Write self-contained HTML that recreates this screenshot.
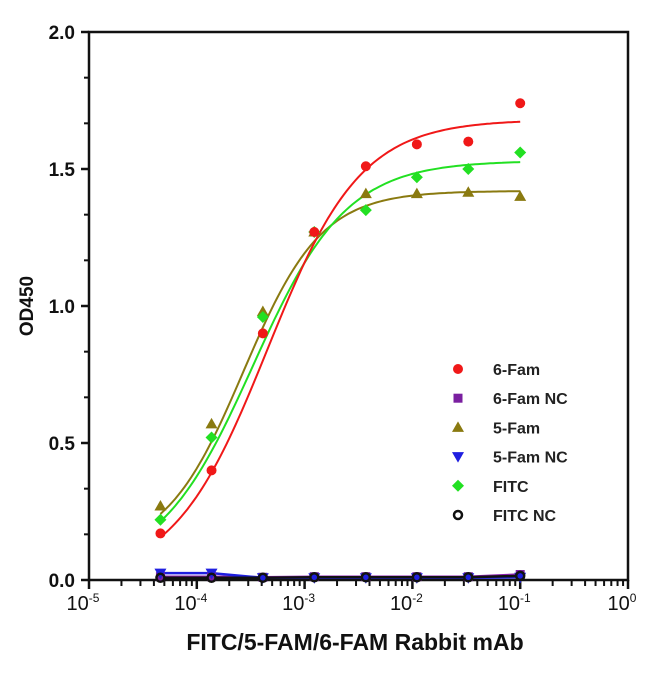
<!DOCTYPE html>
<html><head><meta charset="utf-8"><style>
html,body{margin:0;padding:0;background:#fff;}
svg{display:block;font-family:"Liberation Sans",Arial,sans-serif;}
</style></head><body>
<svg id="chart" width="650" height="677" viewBox="0 0 650 677"></svg>
<script>
const concentrations=[0.1,0.033,0.011,0.0037,0.00123,0.00041,0.000137,0.000046];
const fam6=[1.74,1.60,1.59,1.51,1.27,0.90,0.40,0.17];
const fam6NC=[0.02,0.012,0.012,0.012,0.012,0.01,0.012,0.012];
const fam5=[1.40,1.415,1.41,1.41,1.27,0.98,0.57,0.27];
const fam5NC=[0.01,0.008,0.008,0.008,0.008,0.008,0.025,0.025];
const fitc=[1.56,1.50,1.47,1.35,1.27,0.96,0.52,0.22];
const fitcNC=[0.015,0.01,0.01,0.01,0.01,0.008,0.008,0.008];
const fit6=[0,1.68,0.00045,1.0];
const fit5=[0.1,1.42,0.00027,1.2];
const fitF=[0.03,1.53,0.00033,1.0];
const yTicks=[0,0.5,1.0,1.5,2.0];
const yTickLabels=["0.0","0.5","1.0","1.5","2.0"];
const xDecades=[-5,-4,-3,-2,-1,0];

const NS="http://www.w3.org/2000/svg";
const svg=document.getElementById('chart');
const L=89,R=628,T=32,B=580;
function xs(v){return L+(Math.log10(v)+5)*(R-L)/5;}
function ys(v){return B-v*(B-T)/2;}
function mk(tag,attrs,parent){const e=document.createElementNS(NS,tag);for(const k in attrs)e.setAttribute(k,attrs[k]);(parent||svg).appendChild(e);return e;}

const frame=mk('path',{d:`M${L},${B} L${L},${T} L${R},${T} L${R},${B} Z`,fill:'none',stroke:'#111','stroke-width':2.5});



yTicks.forEach((v,i)=>{
  const t=mk('line',{x1:L-8,x2:L,y1:ys(v),y2:ys(v),stroke:'#111','stroke-width':2.5});
  
  
  const lb=mk('text',{x:L-14,y:ys(v)+7,'text-anchor':'end','font-size':19,'font-weight':'bold',fill:'#111'});
  lb.textContent=yTickLabels[i];
  
  
  if(i<yTicks.length-1){for(let k=1;k<3;k++){const mv=v+k*(yTicks[i+1]-v)/3;
    const m=mk('line',{x1:L-5,x2:L,y1:ys(mv),y2:ys(mv),stroke:'#111','stroke-width':2});
    
    }}
});
xDecades.forEach((d,i)=>{
  const x=xs(Math.pow(10,d));
  const t=mk('line',{x1:x,x2:x,y1:B,y2:B+9,stroke:'#111','stroke-width':2.5});
  
  
  const lb=mk('text',{x:x-6,y:B+30,'text-anchor':'middle','font-size':20,fill:'#111'});
  lb.innerHTML=`10<tspan dy="-8" font-size="12">${d}</tspan>`;
  
  
  if(i<xDecades.length-1){for(let k=2;k<10;k++){const mx=xs(k*Math.pow(10,d));
    const m=mk('line',{x1:mx,x2:mx,y1:B,y2:B+6,stroke:'#111','stroke-width':2});
    
    }}
});
const xt=mk('text',{x:355,y:650,'text-anchor':'middle','font-size':23,'font-weight':'bold',fill:'#111'});
xt.textContent='FITC/5-FAM/6-FAM Rabbit mAb';


const yt=mk('text',{x:0,y:0,transform:'translate(33,306) rotate(-90)','text-anchor':'middle','font-size':19,'font-weight':'bold',fill:'#111'});
yt.textContent='OD450';



function curve(p,color,name){
  let d='';
  const lo=Math.log10(concentrations[concentrations.length-1]),hi=Math.log10(concentrations[0]);
  for(let i=0;i<=120;i++){const lx=lo+(hi-lo)*i/120,c=Math.pow(10,lx);
    const y=p[0]+(p[1]-p[0])/(1+Math.pow(p[2]/c,p[3]));
    d+=(i?'L':'M')+xs(c).toFixed(1)+','+ys(y).toFixed(1);}
  const e=mk('path',{d:d,fill:'none',stroke:color,'stroke-width':2});
  
  
}
function flat(vals,color,name){
  let d='';concentrations.forEach((c,i)=>{d+=(i?'L':'M')+xs(c)+','+ys(vals[i]);});
  const e=mk('path',{d:d,fill:'none',stroke:color,'stroke-width':2.5});
  
  
}
function marker(shape,x,y,color){
  let e;
  if(shape==='circle')e=mk('circle',{cx:x,cy:y,r:5,fill:color});
  else if(shape==='square')e=mk('rect',{x:x-4.5,y:y-4.5,width:9,height:9,fill:color});
  else if(shape==='tri')e=mk('path',{d:`M${x},${y-6}L${x+6},${y+4.5}L${x-6},${y+4.5}Z`,fill:color});
  else if(shape==='tridown')e=mk('path',{d:`M${x},${y+6}L${x+6},${y-4.5}L${x-6},${y-4.5}Z`,fill:color});
  else if(shape==='diamond')e=mk('path',{d:`M${x},${y-6}L${x+6},${y}L${x},${y+6}L${x-6},${y}Z`,fill:color});
  else e=mk('circle',{cx:x,cy:y,r:4,fill:'none',stroke:color,'stroke-width':2.5});
  return e;
}
function points(vals,shape,color,name){
  concentrations.forEach((c,i)=>{const e=marker(shape,xs(c),ys(vals[i]),color);
    
    });
}
flat(fam6NC,'#8a1fb0','line-6fam-nc');
flat(fam5NC,'#1f1fe0','line-5fam-nc');
flat(fitcNC,'#111','line-fitc-nc');
curve(fit5,'#8a7a10','curve-5fam');
curve(fitF,'#22e022','curve-fitc');
curve(fit6,'#f01818','curve-6fam');
points(fam6NC,'square','#7a1fa0','point-6fam-nc');
points(fam5NC,'tridown','#1f1fe0','point-5fam-nc');
points(fitcNC,'open','#111','point-fitc-nc');
points(fam5,'tri','#8a7a10','point-5fam');
points(fitc,'diamond','#22e022','point-fitc');
points(fam6,'circle','#f01818','point-6fam');

const legend=[['6-Fam','circle','#f01818'],['6-Fam NC','square','#7a1fa0'],['5-Fam','tri','#8a7a10'],['5-Fam NC','tridown','#1f1fe0'],['FITC','diamond','#22e022'],['FITC NC','open','#111']];
const lg=mk('g',{});


legend.forEach((l,i)=>{
  const y=369+i*29.2;
  const m=marker(l[1],458,y,l[2]);lg.appendChild(m);
  
  
  const t=mk('text',{x:493,y:y+6,'font-size':16,'font-weight':'bold',fill:'#222'},lg);
  t.textContent=l[0];
  
  
});
</script>
</body></html>
